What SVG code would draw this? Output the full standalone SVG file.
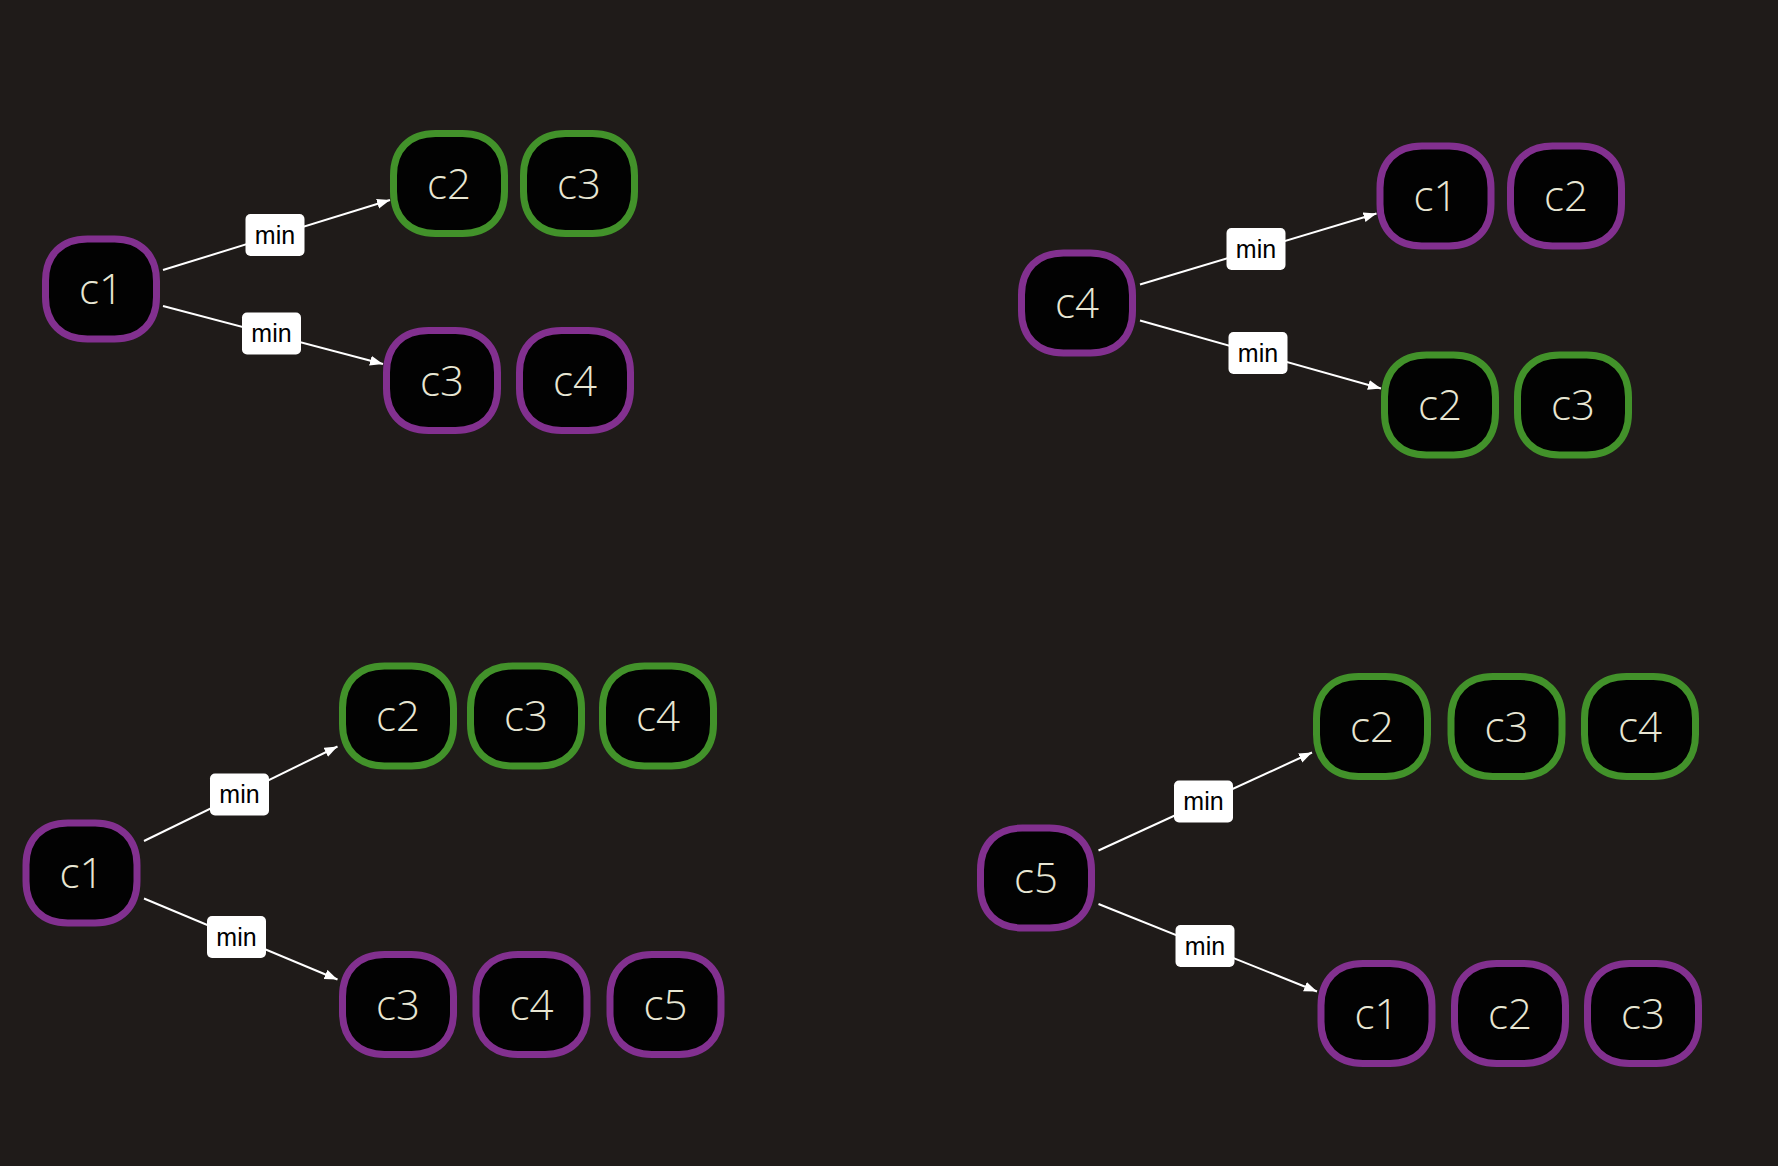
<svg xmlns="http://www.w3.org/2000/svg" width="1778" height="1166" viewBox="0 0 1778 1166">
<defs>
<style>
.bg{fill:#1f1b19}
.n path{fill:#020202;stroke-width:7}
.p path{stroke:#82308f}
.g path{stroke:#42922a}
.n text{fill:#e8e6d3;font-family:"Open Sans",Lato,Inter,"Liberation Sans",sans-serif;font-weight:300;font-size:42px;text-anchor:middle}
.e line{stroke:#ffffff;stroke-width:2;fill:none}
.lb rect{fill:#ffffff}
.lb text{fill:#000000;font-family:"Liberation Sans",Arial,sans-serif;font-size:25px;text-anchor:middle}
</style>
<marker id="ah" markerUnits="userSpaceOnUse" markerWidth="14" markerHeight="11" refX="13" refY="5" orient="auto">
<path d="M0,0 L13,5 L0,10 z" fill="#ffffff"/>
</marker>
</defs>
<rect class="bg" x="0" y="0" width="1778" height="1166"/>

<g id="connectors" class="e">
<line x1="163" y1="270" x2="390" y2="200" marker-end="url(#ah)"/>
<line x1="163" y1="306" x2="383" y2="364" marker-end="url(#ah)"/>
<line x1="1140" y1="284.5" x2="1376.5" y2="213.5" marker-end="url(#ah)"/>
<line x1="1140" y1="320.5" x2="1381" y2="388.5" marker-end="url(#ah)"/>
<line x1="144" y1="841" x2="337.5" y2="746.5" marker-end="url(#ah)"/>
<line x1="144" y1="898.5" x2="337.5" y2="979.5" marker-end="url(#ah)"/>
<line x1="1098.5" y1="850.5" x2="1312" y2="752.5" marker-end="url(#ah)"/>
<line x1="1098.5" y1="904" x2="1317" y2="991.5" marker-end="url(#ah)"/>
<g class="lb">
<g transform="translate(275,235)"><rect x="-29.5" y="-21" width="59" height="42" rx="5"/><text y="8.5">min</text></g>
<g transform="translate(271.5,333.5)"><rect x="-29.5" y="-21" width="59" height="42" rx="5"/><text y="8.5">min</text></g>
<g transform="translate(1256,249)"><rect x="-29.5" y="-21" width="59" height="42" rx="5"/><text y="8.5">min</text></g>
<g transform="translate(1258,353)"><rect x="-29.5" y="-21" width="59" height="42" rx="5"/><text y="8.5">min</text></g>
<g transform="translate(239.5,794.5)"><rect x="-29.5" y="-21" width="59" height="42" rx="5"/><text y="8.5">min</text></g>
<g transform="translate(236.5,937)"><rect x="-29.5" y="-21" width="59" height="42" rx="5"/><text y="8.5">min</text></g>
<g transform="translate(1203.5,801.5)"><rect x="-29.5" y="-21" width="59" height="42" rx="5"/><text y="8.5">min</text></g>
<g transform="translate(1205,946)"><rect x="-29.5" y="-21" width="59" height="42" rx="5"/><text y="8.5">min</text></g>
</g>
</g>

<g id="tl-c1" class="n p" transform="translate(101,289)"><path d="M-13.5,-50H13.5C39.5,-50 55.5,-34 55.5,-8V8C55.5,34 39.5,50 13.5,50H-13.5C-39.5,50 -55.5,34 -55.5,8V-8C-55.5,-34 -39.5,-50 -13.5,-50Z"/><text y="15">c1</text></g>
<g id="tl-c2" class="n g" transform="translate(449,183.5)"><path d="M-13.5,-50H13.5C39.5,-50 55.5,-34 55.5,-8V8C55.5,34 39.5,50 13.5,50H-13.5C-39.5,50 -55.5,34 -55.5,8V-8C-55.5,-34 -39.5,-50 -13.5,-50Z"/><text y="15">c2</text></g>
<g id="tl-c3g" class="n g" transform="translate(579,183.5)"><path d="M-13.5,-50H13.5C39.5,-50 55.5,-34 55.5,-8V8C55.5,34 39.5,50 13.5,50H-13.5C-39.5,50 -55.5,34 -55.5,8V-8C-55.5,-34 -39.5,-50 -13.5,-50Z"/><text y="15">c3</text></g>
<g id="tl-c3p" class="n p" transform="translate(442,380.5)"><path d="M-13.5,-50H13.5C39.5,-50 55.5,-34 55.5,-8V8C55.5,34 39.5,50 13.5,50H-13.5C-39.5,50 -55.5,34 -55.5,8V-8C-55.5,-34 -39.5,-50 -13.5,-50Z"/><text y="15">c3</text></g>
<g id="tl-c4" class="n p" transform="translate(575,380.5)"><path d="M-13.5,-50H13.5C39.5,-50 55.5,-34 55.5,-8V8C55.5,34 39.5,50 13.5,50H-13.5C-39.5,50 -55.5,34 -55.5,8V-8C-55.5,-34 -39.5,-50 -13.5,-50Z"/><text y="15">c4</text></g>

<g id="tr-c4" class="n p" transform="translate(1077,303)"><path d="M-13.5,-50H13.5C39.5,-50 55.5,-34 55.5,-8V8C55.5,34 39.5,50 13.5,50H-13.5C-39.5,50 -55.5,34 -55.5,8V-8C-55.5,-34 -39.5,-50 -13.5,-50Z"/><text y="15">c4</text></g>
<g id="tr-c1" class="n p" transform="translate(1435.5,196)"><path d="M-13.5,-50H13.5C39.5,-50 55.5,-34 55.5,-8V8C55.5,34 39.5,50 13.5,50H-13.5C-39.5,50 -55.5,34 -55.5,8V-8C-55.5,-34 -39.5,-50 -13.5,-50Z"/><text y="15">c1</text></g>
<g id="tr-c2p" class="n p" transform="translate(1566,196)"><path d="M-13.5,-50H13.5C39.5,-50 55.5,-34 55.5,-8V8C55.5,34 39.5,50 13.5,50H-13.5C-39.5,50 -55.5,34 -55.5,8V-8C-55.5,-34 -39.5,-50 -13.5,-50Z"/><text y="15">c2</text></g>
<g id="tr-c2g" class="n g" transform="translate(1440,405)"><path d="M-13.5,-50H13.5C39.5,-50 55.5,-34 55.5,-8V8C55.5,34 39.5,50 13.5,50H-13.5C-39.5,50 -55.5,34 -55.5,8V-8C-55.5,-34 -39.5,-50 -13.5,-50Z"/><text y="15">c2</text></g>
<g id="tr-c3" class="n g" transform="translate(1573,405)"><path d="M-13.5,-50H13.5C39.5,-50 55.5,-34 55.5,-8V8C55.5,34 39.5,50 13.5,50H-13.5C-39.5,50 -55.5,34 -55.5,8V-8C-55.5,-34 -39.5,-50 -13.5,-50Z"/><text y="15">c3</text></g>

<g id="bl-c1" class="n p" transform="translate(81.5,873)"><path d="M-13.5,-50H13.5C39.5,-50 55.5,-34 55.5,-8V8C55.5,34 39.5,50 13.5,50H-13.5C-39.5,50 -55.5,34 -55.5,8V-8C-55.5,-34 -39.5,-50 -13.5,-50Z"/><text y="15">c1</text></g>
<g id="bl-c2" class="n g" transform="translate(398,716)"><path d="M-13.5,-50H13.5C39.5,-50 55.5,-34 55.5,-8V8C55.5,34 39.5,50 13.5,50H-13.5C-39.5,50 -55.5,34 -55.5,8V-8C-55.5,-34 -39.5,-50 -13.5,-50Z"/><text y="15">c2</text></g>
<g id="bl-c3g" class="n g" transform="translate(526,716)"><path d="M-13.5,-50H13.5C39.5,-50 55.5,-34 55.5,-8V8C55.5,34 39.5,50 13.5,50H-13.5C-39.5,50 -55.5,34 -55.5,8V-8C-55.5,-34 -39.5,-50 -13.5,-50Z"/><text y="15">c3</text></g>
<g id="bl-c4g" class="n g" transform="translate(658,716)"><path d="M-13.5,-50H13.5C39.5,-50 55.5,-34 55.5,-8V8C55.5,34 39.5,50 13.5,50H-13.5C-39.5,50 -55.5,34 -55.5,8V-8C-55.5,-34 -39.5,-50 -13.5,-50Z"/><text y="15">c4</text></g>
<g id="bl-c3p" class="n p" transform="translate(398,1004.5)"><path d="M-13.5,-50H13.5C39.5,-50 55.5,-34 55.5,-8V8C55.5,34 39.5,50 13.5,50H-13.5C-39.5,50 -55.5,34 -55.5,8V-8C-55.5,-34 -39.5,-50 -13.5,-50Z"/><text y="15">c3</text></g>
<g id="bl-c4p" class="n p" transform="translate(531.5,1004.5)"><path d="M-13.5,-50H13.5C39.5,-50 55.5,-34 55.5,-8V8C55.5,34 39.5,50 13.5,50H-13.5C-39.5,50 -55.5,34 -55.5,8V-8C-55.5,-34 -39.5,-50 -13.5,-50Z"/><text y="15">c4</text></g>
<g id="bl-c5" class="n p" transform="translate(665.5,1004.5)"><path d="M-13.5,-50H13.5C39.5,-50 55.5,-34 55.5,-8V8C55.5,34 39.5,50 13.5,50H-13.5C-39.5,50 -55.5,34 -55.5,8V-8C-55.5,-34 -39.5,-50 -13.5,-50Z"/><text y="15">c5</text></g>

<g id="br-c5" class="n p" transform="translate(1036,878)"><path d="M-13.5,-50H13.5C39.5,-50 55.5,-34 55.5,-8V8C55.5,34 39.5,50 13.5,50H-13.5C-39.5,50 -55.5,34 -55.5,8V-8C-55.5,-34 -39.5,-50 -13.5,-50Z"/><text y="15">c5</text></g>
<g id="br-c2g" class="n g" transform="translate(1372,726.5)"><path d="M-13.5,-50H13.5C39.5,-50 55.5,-34 55.5,-8V8C55.5,34 39.5,50 13.5,50H-13.5C-39.5,50 -55.5,34 -55.5,8V-8C-55.5,-34 -39.5,-50 -13.5,-50Z"/><text y="15">c2</text></g>
<g id="br-c3g" class="n g" transform="translate(1506.5,726.5)"><path d="M-13.5,-50H13.5C39.5,-50 55.5,-34 55.5,-8V8C55.5,34 39.5,50 13.5,50H-13.5C-39.5,50 -55.5,34 -55.5,8V-8C-55.5,-34 -39.5,-50 -13.5,-50Z"/><text y="15">c3</text></g>
<g id="br-c4" class="n g" transform="translate(1640,726.5)"><path d="M-13.5,-50H13.5C39.5,-50 55.5,-34 55.5,-8V8C55.5,34 39.5,50 13.5,50H-13.5C-39.5,50 -55.5,34 -55.5,8V-8C-55.5,-34 -39.5,-50 -13.5,-50Z"/><text y="15">c4</text></g>
<g id="br-c1" class="n p" transform="translate(1376.5,1013.5)"><path d="M-13.5,-50H13.5C39.5,-50 55.5,-34 55.5,-8V8C55.5,34 39.5,50 13.5,50H-13.5C-39.5,50 -55.5,34 -55.5,8V-8C-55.5,-34 -39.5,-50 -13.5,-50Z"/><text y="15">c1</text></g>
<g id="br-c2p" class="n p" transform="translate(1510,1013.5)"><path d="M-13.5,-50H13.5C39.5,-50 55.5,-34 55.5,-8V8C55.5,34 39.5,50 13.5,50H-13.5C-39.5,50 -55.5,34 -55.5,8V-8C-55.5,-34 -39.5,-50 -13.5,-50Z"/><text y="15">c2</text></g>
<g id="br-c3p" class="n p" transform="translate(1643,1013.5)"><path d="M-13.5,-50H13.5C39.5,-50 55.5,-34 55.5,-8V8C55.5,34 39.5,50 13.5,50H-13.5C-39.5,50 -55.5,34 -55.5,8V-8C-55.5,-34 -39.5,-50 -13.5,-50Z"/><text y="15">c3</text></g>
</svg>
